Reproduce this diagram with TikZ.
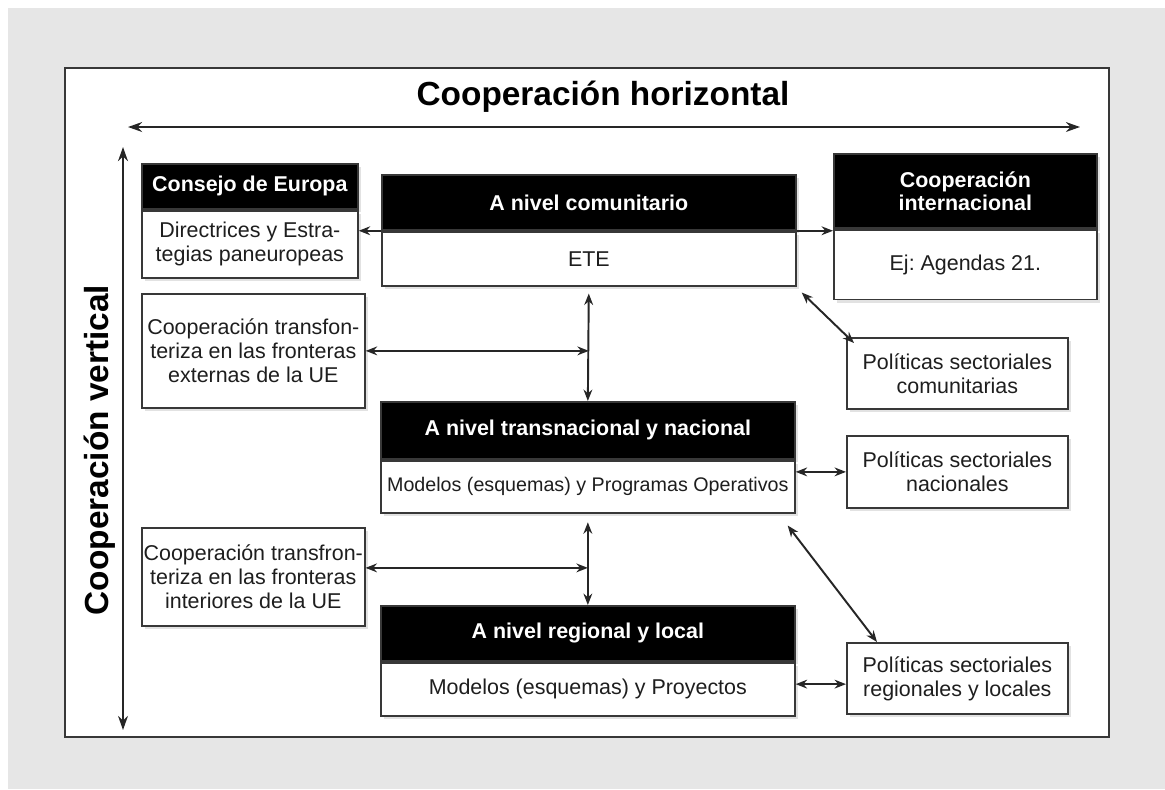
\documentclass[tikz,border=0pt]{standalone}
\usepackage{fontspec}
\setmainfont{Liberation Sans}
\usepackage{tikz}
\usetikzlibrary{arrows.meta,positioning,shadows,calc}
\frenchspacing

\definecolor{pagegray}{HTML}{E6E6E6}
\definecolor{edgegray}{HTML}{383838}
\definecolor{inkgray}{HTML}{1E1E1E}

\begin{document}
\begin{tikzpicture}[x=0.02cm, y=-0.02cm, node distance=0pt,
    >={Stealth[length=6.5pt,width=5pt]},
    every node/.style={inner sep=1pt, align=center, text=inkgray, font=\fontsize{12.2}{13.6}\selectfont},
    boxshadow/.style={drop shadow={shadow xshift=2pt, shadow yshift=-2pt, fill=black!25, opacity=0.45}},
    hdr/.style={draw=edgegray, line width=1pt, fill=black, text=white, font=\bfseries\fontsize{12.2}{13.2}\selectfont, boxshadow},
    bodybox/.style={draw=edgegray, line width=1pt, fill=white, boxshadow},
    link/.style={draw=black!85, line width=1.1pt},
    axis/.style={draw=black!85, line width=1.2pt, {Stealth[length=8pt,width=5.6pt]}-{Stealth[length=8pt,width=5.6pt]}}]
      % page and frame
      \fill[white] (0,0) rectangle (1165,789);
      \fill[pagegray] (8,8) rectangle (1165,789);
      \draw[edgegray, line width=1.4pt, fill=white] (65,68) rectangle (1109,737);

      % axes
      \node[anchor=base, text=black, font=\bfseries\fontsize{19}{22}\selectfont] (htitle) at (603,105) {Cooperación horizontal};
      \node[anchor=base, rotate=90, text=black, font=\bfseries\fontsize{19}{22}\selectfont] (vtitle) at (108,450) {Cooperación vertical};
      \coordinate (hleft) at (128,127);
      \coordinate (hright) at (1080,127);
      \coordinate (vtop) at (123,147);
      \coordinate (vbottom) at (123,730);
      \draw[axis] (hleft) -- (hright);
      \draw[axis] (vtop) -- (vbottom);

      % left column
      \node[hdr, anchor=north west, minimum width=4.32cm, minimum height=0.9cm] (cehd) at (141,163) {Consejo de Europa};
      \node[bodybox, below=of cehd, minimum width=4.32cm, minimum height=1.34cm] (ce) {Directrices y Estra-\\tegias paneuropeas};
      \node[bodybox, anchor=north west, minimum width=4.46cm, minimum height=2.28cm] (ext) at (141,293) {Cooperación transfon-\\teriza en las fronteras\\externas de la UE};
      \node[bodybox, anchor=north west, minimum width=4.44cm, minimum height=1.96cm] (int) at (141,527) {Cooperación transfron-\\teriza en las fronteras\\interiores de la UE};

      % middle column
      \node[hdr, anchor=north west, minimum width=8.28cm, minimum height=1.1cm] (comhd) at (381,174) {A nivel comunitario};
      \node[bodybox, below=of comhd, minimum width=8.28cm, minimum height=1.08cm] (com) {ETE};
      \node[hdr, anchor=north west, minimum width=8.28cm, minimum height=1.14cm] (tnhd) at (380,401) {A nivel transnacional y nacional};
      \node[bodybox, below=of tnhd, minimum width=8.28cm, minimum height=1.04cm, font=\fontsize{11.2}{13}\selectfont] (tn) {Modelos (esquemas) y Programas Operativos};
      \node[hdr, anchor=north west, minimum width=8.28cm, minimum height=1.1cm] (rlhd) at (380,605) {A nivel regional y local};
      \node[bodybox, below=of rlhd, minimum width=8.28cm, minimum height=1.06cm] (rl) {Modelos (esquemas) y Proyectos};

      % right column
      \node[hdr, anchor=north west, minimum width=5.26cm, minimum height=1.48cm] (inthd) at (833,153) {Cooperación\\internacional};
      \node[bodybox, below=of inthd, minimum width=5.26cm, minimum height=1.4cm] (intl) {Ej: Agendas 21.};
      \node[bodybox, anchor=north west, minimum width=4.42cm, minimum height=1.42cm] (pcom) at (846,337) {Políticas sectoriales\\comunitarias};
      \node[bodybox, anchor=north west, minimum width=4.42cm, minimum height=1.44cm] (pnac) at (846,435) {Políticas sectoriales\\nacionales};
      \node[bodybox, anchor=north west, minimum width=4.42cm, minimum height=1.42cm] (prl) at (846,642) {Políticas sectoriales\\regionales y locales};

      % connectors
      \coordinate (j1) at (com.south |- ext.east);
      \coordinate (j2) at ([yshift=0.18cm]int.east -| tn.south);
      \draw[link, ->] (comhd.south west) -- (comhd.south west -| ce.east);
      \draw[link, ->] (comhd.south east) -- (comhd.south east -| inthd.west);
      \draw[link, <->] ($(com.south east)+(5,6)$) -- ($(pcom.north west)+(8,6)$);
      \draw[link, <->, shorten <=4pt] (com.south) -- (tnhd.north);
      \draw[link, <->] (ext.east) -- (j1);
      \draw[link, <->] (tn.east |- pnac.west) -- (pnac.west);
      \draw[link, <->] ($(tn.south east)+(-8,12)$) -- ($(prl.north west)+(31,0)$);
      \draw[link, <->, shorten <=5pt] (tn.south) -- (rlhd.north);
      \draw[link, <->] ([yshift=0.18cm]int.east) -- (j2);
      \draw[link, <->] ([yshift=0.1cm]rl.east) -- ([yshift=0.1cm]rl.east -| prl.west);
    \end{tikzpicture}
\end{document}
